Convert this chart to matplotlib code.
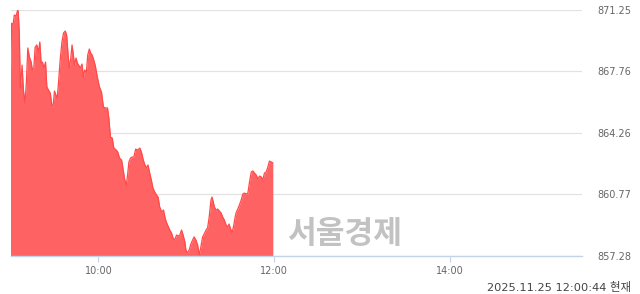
import matplotlib
matplotlib.use("Agg")
import matplotlib.pyplot as plt

# minutes since 09:00
minutes = [0, 0.8, 1.7, 2.6, 3.8, 4.9, 5.3, 6.0, 6.7, 7.9, 8.8, 9.9, 10.8, 11.8, 12.9, 14.1,
           14.9, 15.9, 16.8, 18.0, 19.1, 20.0, 20.9, 21.8, 22.8, 23.9, 24.8, 25.9, 27.1, 28.3,
           29.1, 30.0, 31.0, 31.9, 32.8, 33.9, 35.1, 36.2, 37.4, 38.3, 39.2, 40.1, 41.0, 42.0,
           42.9, 43.7, 44.7, 45.6, 46.5, 47.7, 48.8, 49.7, 50.6, 51.8, 52.7, 53.8, 54.7, 55.7,
           56.8, 57.9, 59.1, 60.7, 62.1, 63.4, 64.8, 66.2, 67.1, 68.2, 69.4, 70.5, 72.1, 73.2,
           74.4, 75.8, 76.9, 78.0, 79.0, 79.9, 80.8, 81.9, 83.1, 84.2, 85.4, 86.5, 87.6, 88.3,
           89.5, 90.6, 91.7, 92.9, 93.8, 95.0, 96.1, 97.2, 98.4, 99.6, 100.7, 101.8, 103.2,
           104.4, 105.5, 106.6, 107.8, 108.7, 109.9, 110.9, 112.1, 113.3, 114.4, 115.5, 116.7,
           117.8, 119.0, 119.7, 120.8, 121.9, 123.1, 124.3, 125.3, 126.5, 127.7, 128.8, 129.9,
           131.1, 132.2, 133.4, 134.5, 135.6, 136.8, 137.5, 138.4, 139.1, 140.2, 141.4, 142.5,
           143.7, 144.8, 145.9, 147.1, 148.3, 149.1, 150.0, 151.2, 152.4, 153.3, 154.1, 155.1,
           156.2, 157.4, 158.5, 159.6, 160.8, 162.0, 163.1, 164.3, 165.4, 166.5, 167.7, 168.8,
           169.9, 171.1, 172.2, 173.3, 174.5, 175.6, 176.7, 177.9, 179.0]
values = [867.71, 870.47, 870.37, 870.94, 870.88, 871.22, 871.11, 869.92, 866.80, 868.10,
          866.69, 865.95, 867.08, 869.07, 868.56, 868.27, 867.82, 867.93, 869.12, 869.24,
          868.84, 869.41, 868.22, 868.27, 867.93, 868.27, 866.86, 866.69, 866.52, 865.78,
          865.78, 866.63, 866.40, 866.23, 867.14, 868.39, 869.41, 869.92, 870.03, 869.80,
          868.78, 867.93, 868.39, 869.24, 868.67, 868.10, 868.50, 868.22, 868.10, 867.93,
          868.16, 867.42, 867.82, 867.71, 868.67, 869.01, 868.78, 868.67, 868.39, 868.05,
          867.48, 866.86, 866.57, 865.72, 865.67, 865.67, 865.10, 864.02, 863.97, 863.40,
          863.29, 863.17, 862.83, 862.72, 862.15, 861.59, 861.30, 861.87, 862.61, 862.83,
          862.89, 862.89, 863.34, 863.29, 863.34, 863.40, 863.12, 862.72, 862.44, 862.27,
          862.44, 861.98, 861.59, 861.13, 860.91, 860.74, 860.62, 860.06, 859.77, 859.89,
          859.43, 859.15, 858.92, 858.75, 858.58, 858.30, 858.19, 858.47, 858.41, 858.47,
          858.75, 858.47, 858.07, 857.62, 857.45, 857.62, 857.96, 858.19, 858.36, 858.19,
          857.90, 857.34, 857.79, 858.36, 858.53, 858.75, 858.87, 859.49, 860.45, 860.62,
          860.34, 860.06, 859.89, 859.94, 859.83, 859.72, 859.49, 859.32, 859.04, 858.92,
          859.09, 858.87, 858.58, 859.04, 859.49, 859.77, 859.94, 860.17, 860.45, 860.79,
          860.85, 860.79, 860.85, 861.47, 862.04, 862.10, 861.98, 861.87, 861.64, 861.81,
          861.76, 861.59, 861.98, 862.04, 862.32, 862.66, 862.61, 862.55]

y_ticks = [857.28, 860.77, 864.26, 867.76, 871.25]
y_tick_labels = ["857.28", "860.77", "864.26", "867.76", "871.25"]
x_ticks = [60, 180, 300]
x_tick_labels = ["10:00", "12:00", "14:00"]
session_minutes = 390
timestamp_text = "2025.11.25 12:00:44 현재"
watermark_text = "서울경제"

fig = plt.figure(figsize=(6.4, 2.94), dpi=100)
ax = fig.add_axes([10.5 / 640, 38 / 294, (582 - 10.5) / 640, (256 - 9.5) / 294])

ax.fill_between(minutes, values, y_ticks[0], color="#ff6262", linewidth=0, zorder=2)
ax.plot(minutes, values, color="#ff4a4a", linewidth=0.9, zorder=3)

ax.set_xlim(0, session_minutes)
ax.set_ylim(y_ticks[0], y_ticks[-1])

ax.yaxis.tick_right()
ax.set_yticks(y_ticks)
ax.set_yticklabels(y_tick_labels)
ax.set_xticks(x_ticks)
ax.set_xticklabels(x_tick_labels)
ax.tick_params(axis="y", length=0, pad=11, labelsize=7, labelcolor="#666666")
ax.tick_params(axis="x", length=4, width=0.8, color="#c5d3ea", pad=3,
               labelsize=7, labelcolor="#666666")
ax.grid(axis="y", color="#e2e2e2", linewidth=0.9, zorder=0)
for side in ("left", "right", "top"):
    ax.spines[side].set_visible(False)
ax.spines["bottom"].set_color("#c5d3ea")
ax.spines["bottom"].set_linewidth(1.0)
ax.spines["bottom"].set_zorder(4)

fig.text(345 / 640, 1 - 234 / 294, watermark_text, ha="center", va="center",
         fontsize=22.5, fontweight="bold", color="#c2c2c2",
         family=["Noto Sans CJK KR", "DejaVu Sans"], zorder=5)

fig.text(631 / 640, 1 - 287 / 294, timestamp_text, ha="right", va="center",
         fontsize=8.2, color="#444444", family=["DejaVu Sans", "Noto Sans CJK KR"])

fig.savefig("out.png", dpi=100)
